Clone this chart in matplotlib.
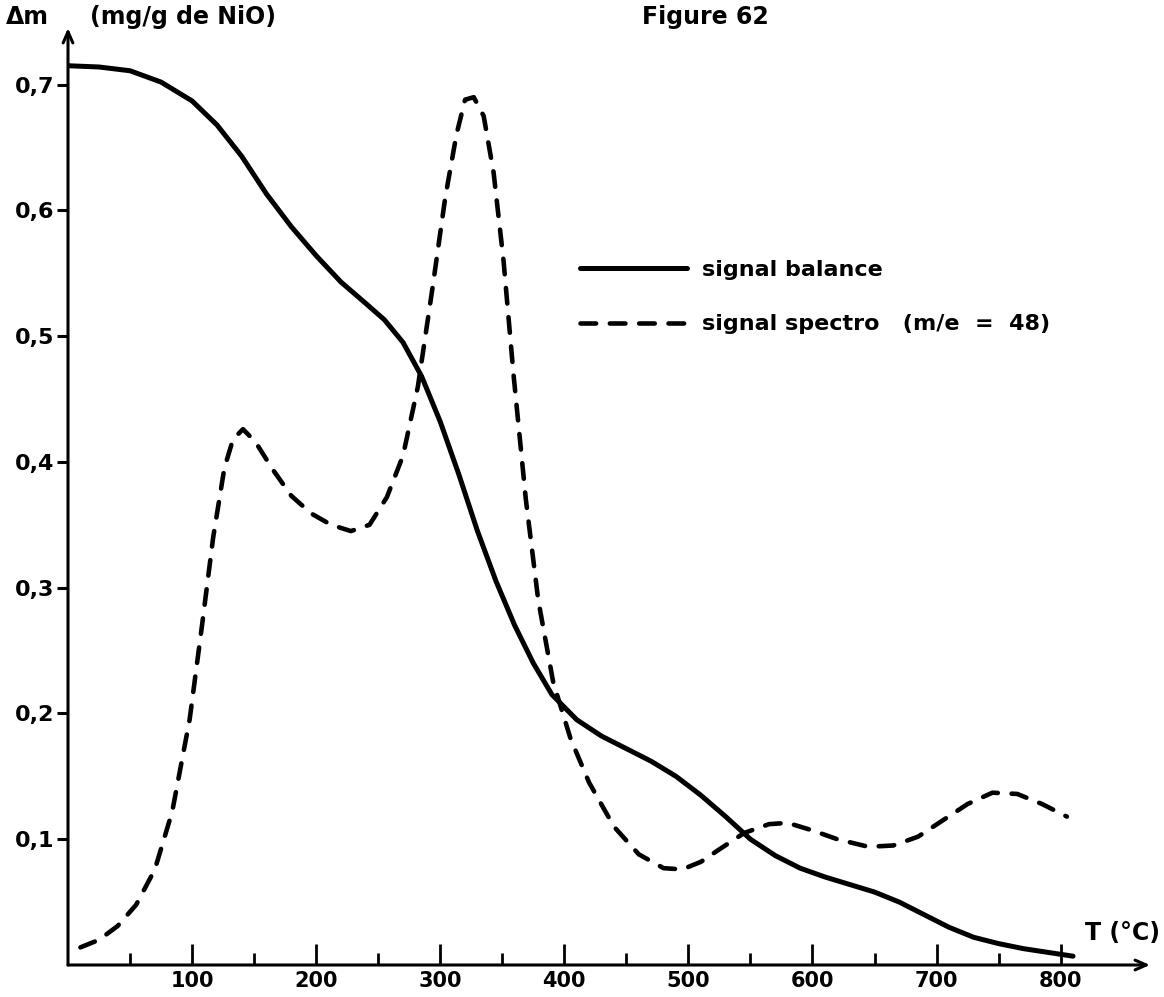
import numpy as np
import matplotlib.pyplot as plt
from matplotlib.ticker import FixedLocator

"""
Figure 62 - Delta m (mg/g de NiO) vs T (C), signal balance / signal spectro
"""
# solid curve: signal balance
T_balance = [0, 25, 50, 75, 100, 120, 140, 160, 180, 200, 220, 240, 255, 270,
             285, 300, 315, 330, 345, 360, 375, 390, 410, 430, 450, 470, 490,
             510, 530, 550, 570, 590, 610, 630, 650, 670, 690, 710, 730, 750,
             770, 790, 810]
m_balance = [0.715, 0.714, 0.711, 0.702, 0.687, 0.668, 0.643, 0.613, 0.587,
             0.564, 0.543, 0.526, 0.513, 0.495, 0.468, 0.432, 0.39, 0.345,
             0.305, 0.27, 0.24, 0.215, 0.195, 0.182, 0.172, 0.162, 0.15, 0.135,
             0.118, 0.1, 0.087, 0.077, 0.07, 0.064, 0.058, 0.05, 0.04, 0.03,
             0.022, 0.017, 0.013, 0.01, 0.007]

# dashed curve: signal spectro (m/e = 48)
T_spectro = [10, 25, 40, 55, 70, 84, 98, 108, 117, 126, 133, 141, 151, 165,
             180, 196, 212, 228, 243, 257, 270, 282, 294, 304, 313, 320, 327,
             335, 343, 351, 359, 369, 379, 391, 405, 420, 440, 460, 480, 495,
             510, 525, 545, 565, 580, 600, 620, 645, 665, 685, 705, 725, 745,
             765, 785, 805]
m_spectro = [0.014, 0.02, 0.031, 0.048, 0.076, 0.122, 0.195, 0.27, 0.34,
             0.395, 0.418, 0.426, 0.416, 0.394, 0.373, 0.359, 0.35, 0.345,
             0.35, 0.372, 0.405, 0.46, 0.54, 0.61, 0.66, 0.688, 0.69, 0.675,
             0.63, 0.56, 0.47, 0.37, 0.29, 0.225, 0.18, 0.145, 0.11, 0.088,
             0.077, 0.076, 0.082, 0.092, 0.105, 0.112, 0.113, 0.107, 0.1,
             0.094, 0.095, 0.102, 0.115, 0.128, 0.137, 0.136, 0.128, 0.118]

y_ticks = [0.1, 0.2, 0.3, 0.4, 0.5, 0.6, 0.7]
y_labels = ['0,1', '0,2', '0,3', '0,4', '0,5', '0,6', '0,7']
x_ticks = [100, 200, 300, 400, 500, 600, 700, 800]
x_minor = [50, 150, 250, 350, 450, 550, 650, 750]

plt.rcParams['font.family'] = ['DejaVu Sans']
plt.rcParams['font.weight'] = 'bold'

W, H = 1164, 997
fig = plt.figure(figsize=(W / 100, H / 100), dpi=100)

"""Axes placed in pixels: origin (68, 965), arrows end at x=1150, y=28"""
x0, y0, x1, y1 = 68, 965, 1150, 28
ax = fig.add_axes([x0 / W, 1 - y0 / H, (x1 - x0) / W, (y0 - y1) / H])
ax.set_xlim(0, 872)
ax.set_ylim(0, 0.745)
ax.patch.set_alpha(0)

for s in ax.spines.values():
    s.set_visible(False)

"""Curves"""
ax.plot(T_balance, m_balance, color='black', lw=3.6,
        solid_capstyle='round', solid_joinstyle='round', label='signal balance')
ax.plot(T_spectro, m_spectro, color='black', lw=3.3, dashes=(3.4, 3.0),
        dash_capstyle='round', label='signal spectro   (m/e  =  48)')

"""Axes drawn as arrows"""
arrow = dict(arrowstyle='->,head_length=0.8,head_width=0.35',
             lw=2.2, color='black', shrinkA=0, shrinkB=0)
ax.annotate('', xy=(1, 0), xytext=(0, 0), xycoords='axes fraction',
            arrowprops=arrow)
ax.annotate('', xy=(0, 1), xytext=(0, 0), xycoords='axes fraction',
            arrowprops=arrow)

"""Ticks"""
ax.yaxis.set_major_locator(FixedLocator(y_ticks))
ax.set_yticklabels(y_labels)
ax.tick_params(axis='y', direction='out', length=8, width=2.2, labelsize=16,
               pad=2)
ax.xaxis.set_major_locator(FixedLocator(x_ticks))
ax.xaxis.set_minor_locator(FixedLocator(x_minor))
ax.tick_params(axis='x', which='major', direction='in', length=15, width=2,
               labelsize=15, pad=4)
ax.tick_params(axis='x', which='minor', direction='in', length=9, width=2)

"""Labels"""
fig.text(6 / W, 1 - 17 / H, '\u0394m', fontsize=17, va='center', ha='left')
fig.text(90 / W, 1 - 17 / H, '(mg/g de NiO)', fontsize=17, va='center',
         ha='left')
fig.text(642 / W, 1 - 17 / H, 'Figure 62', fontsize=17, va='center',
         ha='left')
fig.text(1160 / W, 1 - 933 / H, 'T (\u00b0C)', fontsize=17, va='center',
         ha='right')

"""Legend"""
ax.legend(loc='upper left', bbox_to_anchor=(560 / W, 1 - 240 / H),
          bbox_transform=fig.transFigure, frameon=False, fontsize=16,
          handlelength=4.8, handletextpad=0.7, labelspacing=1.55)

plt.savefig('out.png', dpi=100)
